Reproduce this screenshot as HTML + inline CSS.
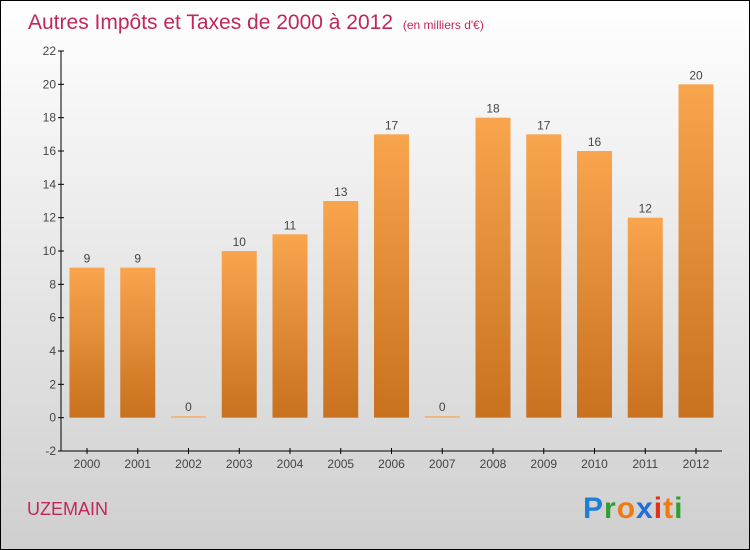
<!DOCTYPE html>
<html><head><meta charset="utf-8"><style>
body{margin:0}
#c{width:750px;height:550px;position:relative;box-sizing:border-box;border:1px solid #000;background:linear-gradient(#fff,#f5f5f5 20%,#cfcfcf);font-family:"Liberation Sans",sans-serif;overflow:hidden}
</style></head><body>
<div id="c">
<svg width="750" height="550" style="position:absolute;left:0;top:0" id="svg">
<defs><linearGradient id="g" x1="0" y1="0" x2="0" y2="1"><stop offset="0" stop-color="#f8a54e"/><stop offset="1" stop-color="#c8711e"/></linearGradient></defs>
<text x="27" y="28" font-size="21" fill="#c2275a">Autres Impôts et Taxes de 2000 à 2012 <tspan font-size="12" dx="4">(en milliers d'€)</tspan></text>
<text x="26" y="514" font-size="18" fill="#c2275a">UZEMAIN</text>
<text x="582" y="517" font-size="30" font-weight="bold" letter-spacing="1"><tspan fill="#1f7fd6">P</tspan><tspan fill="#2fa02f">r</tspan><tspan fill="#f07a10">o</tspan><tspan fill="#1f6fd6">x</tspan><tspan fill="#e0301e">i</tspan><tspan fill="#f07a10">t</tspan><tspan fill="#2fa02f">i</tspan></text>
<g id="plot"></g>
</svg>
</div>
<script>
const years=["2000","2001","2002","2003","2004","2005","2006","2007","2008","2009","2010","2011","2012"];
const values=[9,9,0,10,11,13,17,0,18,17,16,12,20];
const yTicks=[-2,0,2,4,6,8,10,12,14,16,18,20,22];
const NS="http://www.w3.org/2000/svg";
const g=document.getElementById('plot');
const y=v=>450-(v+2)*400/24;
const x=i=>86+i*50.75;
function mk(t,a){const e=document.createElementNS(NS,t);for(const k in a)e.setAttribute(k,a[k]);g.appendChild(e);return e;}
let ax=mk('line',{x1:60,y1:50,x2:60,y2:450,stroke:'#000'});


let bx=mk('line',{x1:60,y1:450,x2:721,y2:450,stroke:'#000'});


yTicks.forEach(v=>{
 const l=mk('line',{x1:57,x2:63,y1:y(v),y2:y(v),stroke:'#000'});
 
 
 const t=mk('text',{x:55,y:y(v)+4,'font-size':12,fill:'#444','text-anchor':'end'});
 t.textContent=v;
 
 
});
years.forEach((yr,i)=>{
 const cx=x(i),v=values[i];
 const tk=mk('line',{x1:cx,x2:cx,y1:447,y2:453,stroke:'#000'});
 
 
 const tl=mk('text',{x:cx,y:467,'font-size':12,fill:'#444','text-anchor':'middle'});
 tl.textContent=yr;
 
 
 const top=y(v),h=Math.max(y(0)-top,1.5);
 const b=mk('rect',{x:cx-17.5,y:v===0?y(0)-1.5:top,width:35,height:h,fill:v===0?'#f0b070':'url(#g)'});
 
 
 const vl=mk('text',{x:cx,y:(v===0?y(0)-1.5:top)-5,'font-size':12,fill:'#444','text-anchor':'middle'});
 vl.textContent=v;
 
 
});
</script>
</body></html>
